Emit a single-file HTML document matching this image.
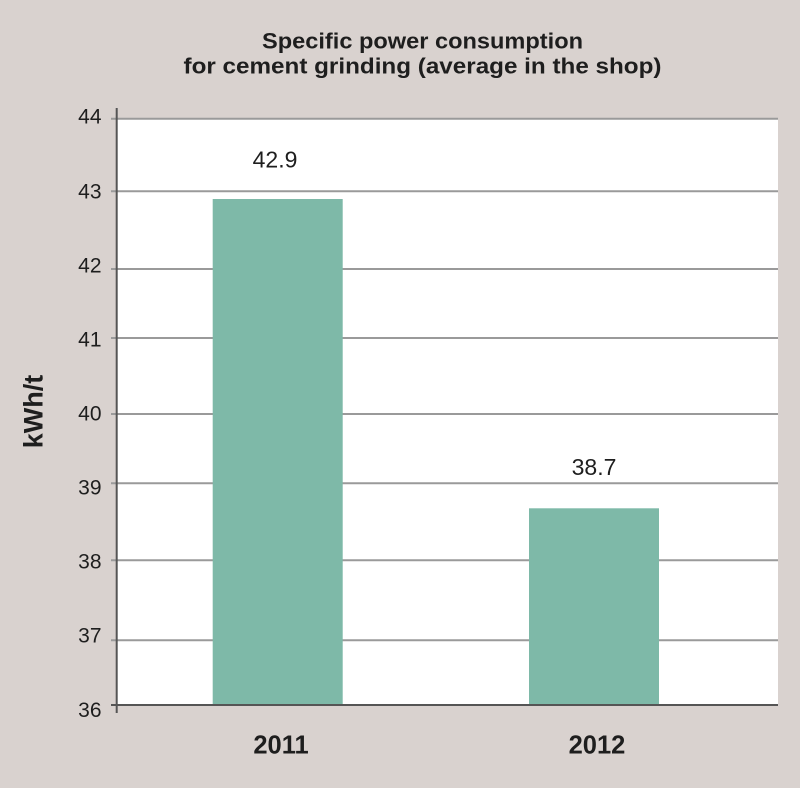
<!DOCTYPE html>
<html>
<head>
<meta charset="utf-8">
<style>
html,body{margin:0;padding:0;background:#d9d2cf;}
svg{display:block;}
text{font-family:"Liberation Sans",Arial,sans-serif;fill:#1e1e1e;}
</style>
</head>
<body>
<svg width="800" height="788" viewBox="0 0 800 788" xmlns="http://www.w3.org/2000/svg">
  <rect x="0" y="0" width="800" height="788" fill="#d9d2cf"/>
  <!-- plot area -->
  <rect x="117" y="118.7" width="661" height="586.3" fill="#ffffff"/>
  <!-- gridlines -->
  <g stroke="#9a9a9a" stroke-width="2">
    <line x1="111" y1="118.7" x2="778" y2="118.7"/>
    <line x1="111" y1="191.3" x2="778" y2="191.3"/>
    <line x1="111" y1="269" x2="778" y2="269"/>
    <line x1="111" y1="338" x2="778" y2="338"/>
    <line x1="111" y1="414" x2="778" y2="414"/>
    <line x1="111" y1="483.3" x2="778" y2="483.3"/>
    <line x1="111" y1="560.3" x2="778" y2="560.3"/>
    <line x1="111" y1="640.3" x2="778" y2="640.3"/>
  </g>
  <!-- bars -->
  <rect x="212.7" y="199" width="130" height="506" fill="#7eb9a8"/>
  <rect x="529" y="508.3" width="130" height="196.7" fill="#7eb9a8"/>
  <!-- axes -->
  <line x1="111" y1="705" x2="778" y2="705" stroke="#555" stroke-width="2"/>
  <line x1="116.7" y1="108" x2="116.7" y2="713" stroke="#555" stroke-width="2"/>
  <!-- y tick labels -->
  <g font-size="21" text-anchor="end">
    <text x="101.5" y="123.3">44</text>
    <text x="101.5" y="198.3">43</text>
    <text x="101.5" y="272.5">42</text>
    <text x="101.5" y="346.6">41</text>
    <text x="101.5" y="420.5">40</text>
    <text x="101.5" y="494.3">39</text>
    <text x="101.5" y="568.5">38</text>
    <text x="101.5" y="642.7">37</text>
    <text x="101.5" y="716.8">36</text>
  </g>
  <!-- y axis title -->
  <text transform="translate(42.5,411.5) rotate(-90)" font-size="27" font-weight="bold" text-anchor="middle">kWh/t</text>
  <!-- value labels -->
  <text x="275" y="167.3" font-size="23" text-anchor="middle">42.9</text>
  <text x="594" y="475" font-size="23" text-anchor="middle">38.7</text>
  <!-- x labels -->
  <text x="281" y="753.3" font-size="25.5" font-weight="bold" text-anchor="middle">2011</text>
  <text x="597" y="753.3" font-size="25.5" font-weight="bold" text-anchor="middle">2012</text>
  <!-- title -->
  <text x="262" y="48.3" font-size="22" font-weight="bold" textLength="321" lengthAdjust="spacingAndGlyphs">Specific power consumption</text>
  <text x="183.5" y="73.5" font-size="22" font-weight="bold" textLength="478" lengthAdjust="spacingAndGlyphs">for cement grinding (average in the shop)</text>
</svg>
</body>
</html>
